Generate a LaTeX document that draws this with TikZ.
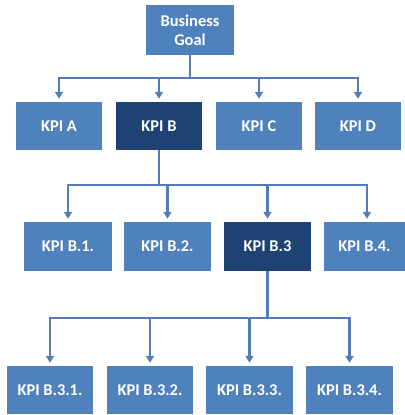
\documentclass[tikz,border=0pt]{standalone}
\usepackage{fontspec}
\setmainfont{Carlito}
\usetikzlibrary{arrows.meta}
\definecolor{kpiblue}{RGB}{79,129,189}
\definecolor{kpidark}{RGB}{31,66,116}
\definecolor{linkblue}{RGB}{84,125,184}
\begin{document}
\begin{tikzpicture}[x=1bp,y=-1bp,
  kpibox/.style={fill=kpiblue, draw=none, text=white, font=\bfseries\fontsize{16.5}{19}\selectfont,
    minimum width=86bp, minimum height=48bp, inner sep=0pt, align=center},
  kpisel/.style={kpibox, fill=kpidark},
  link/.style={draw=linkblue, line width=2.2bp, shorten >=3bp,
    -{Triangle[width=8bp,length=7bp]}}]
\useasboundingbox (0,0) rectangle (405,415);

% top goal
\node[kpibox, minimum width=87bp, minimum height=50bp] (goal) at (190,30) {Business\\Goal};

% first level
\node[kpibox] (ka) at (59,126) {KPI A};
\node[kpisel] (kb) at (159,126) {KPI B};
\node[kpibox] (kc) at (259,126) {KPI C};
\node[kpibox] (kd) at (358,126) {KPI D};

% second level
\node[kpibox, minimum height=49bp, minimum width=87bp] (b1) at (68,246.5) {KPI B.1.};
\node[kpibox, minimum height=49bp, minimum width=87bp] (b2) at (167.5,246.5) {KPI B.2.};
\node[kpisel, minimum height=49bp, minimum width=87bp] (b3) at (267.5,246.5) {KPI B.3};
\node[kpibox, minimum height=49bp, minimum width=81bp] (b4) at (364.5,246.5) {KPI B.4.};

% third level
\node[kpibox] (c1) at (50,390) {KPI B.3.1.};
\node[kpibox] (c2) at (150,390) {KPI B.3.2.};
\node[kpibox] (c3) at (249.5,390) {KPI B.3.3.};
\node[kpibox] (c4) at (349.5,390) {KPI B.3.4.};

% connectors
\foreach \t in {ka,kb,kc,kd}
  \draw[link] (goal.south) -- ++(0,23) -| (\t.north);
\foreach \t in {b1,b2,b3}
  \draw[link] (kb.south) -- ++(0,35) -| (\t.north);
\draw[link] (kb.south) -- ++(0,35) -| ([xshift=2.5bp]b4.north);
\foreach \t in {c1,c2,c3,c4}
  \draw[link] (b3.south) -- ++(0,47) -| (\t.north);
\end{tikzpicture}
\end{document}
